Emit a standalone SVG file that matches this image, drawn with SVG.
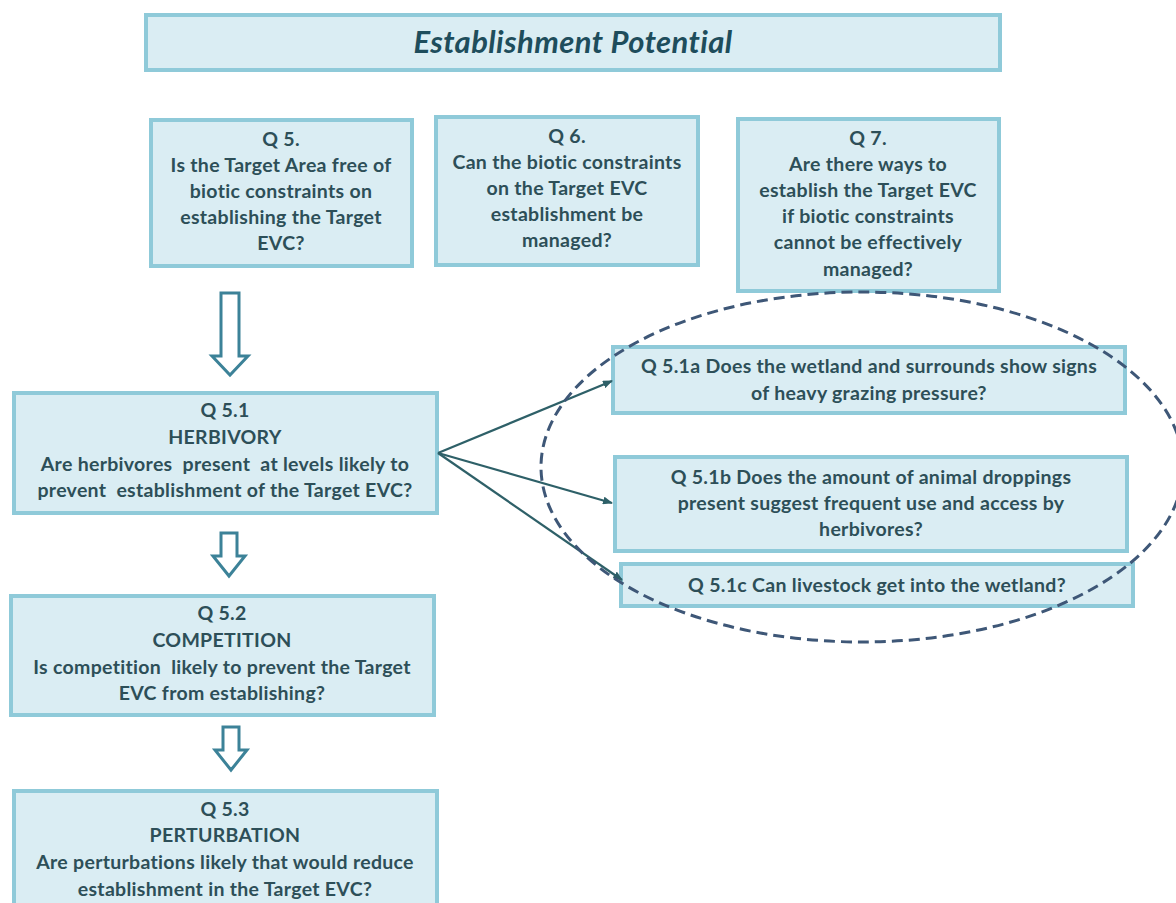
<svg xmlns="http://www.w3.org/2000/svg" width="1176" height="903" viewBox="0 0 1176 903">
<defs>
<style>
.box{fill:#daedf3;stroke:#8fcad9;stroke-width:4}
.t{font-family:Lato,"Open Sans","Liberation Sans",sans-serif;font-weight:bold;font-size:19.5px;letter-spacing:0.3px;fill:#2d4f58;text-anchor:middle}
.title{font-family:Lato,"Open Sans","Liberation Sans",sans-serif;font-weight:bold;font-style:italic;font-size:31px;letter-spacing:0.4px;fill:#1e4d5c;text-anchor:middle}
.blk{fill:#ffffff;stroke:#3c8298;stroke-width:3;stroke-linejoin:miter}
.con{stroke:#2e6068;stroke-width:2.2;fill:none}
</style>
<marker id="ah" markerWidth="10" markerHeight="8" refX="9" refY="4" orient="auto" markerUnits="userSpaceOnUse">
<path d="M0,0 L10,4 L0,8 Z" fill="#2e6068"/>
</marker>
</defs>
<rect width="1176" height="903" fill="#ffffff"/>

<g id="title">
<rect class="box" x="146" y="15" width="854" height="55"/>
<text class="title" x="573" y="53">Establishment Potential</text>
</g>

<g id="q5">
<rect class="box" x="151" y="120" width="261" height="146"/>
<text class="t" x="281" y="146">Q 5.</text>
<text class="t" x="281" y="172">Is the Target Area free of</text>
<text class="t" x="281" y="198">biotic constraints on</text>
<text class="t" x="281" y="224">establishing the Target</text>
<text class="t" x="281" y="250">EVC?</text>
</g>

<g id="q6">
<rect class="box" x="436" y="117" width="262" height="148"/>
<text class="t" x="567" y="143">Q 6.</text>
<text class="t" x="567" y="169">Can the biotic constraints</text>
<text class="t" x="567" y="195">on the Target EVC</text>
<text class="t" x="567" y="221">establishment be</text>
<text class="t" x="567" y="247">managed?</text>
</g>

<g id="q7">
<rect class="box" x="738" y="119" width="261" height="172"/>
<text class="t" x="868" y="145">Q 7.</text>
<text class="t" x="868" y="171">Are there ways to</text>
<text class="t" x="868" y="197">establish the Target EVC</text>
<text class="t" x="868" y="223">if biotic constraints</text>
<text class="t" x="868" y="249">cannot be effectively</text>
<text class="t" x="868" y="276">managed?</text>
</g>

<g id="q51">
<rect class="box" x="14" y="393" width="423" height="120"/>
<text class="t" x="225" y="417">Q 5.1</text>
<text class="t" x="225" y="444">HERBIVORY</text>
<text class="t" x="225" y="471" xml:space="preserve">Are herbivores  present  at levels likely to</text>
<text class="t" x="225" y="497" xml:space="preserve">prevent  establishment of the Target EVC?</text>
</g>

<g id="q52">
<rect class="box" x="11" y="596" width="423" height="119"/>
<text class="t" x="222" y="620">Q 5.2</text>
<text class="t" x="222" y="647">COMPETITION</text>
<text class="t" x="222" y="674" xml:space="preserve">Is competition  likely to prevent the Target</text>
<text class="t" x="222" y="700">EVC from establishing?</text>
</g>

<g id="q53">
<rect class="box" x="14" y="791" width="423" height="125"/>
<text class="t" x="225" y="816">Q 5.3</text>
<text class="t" x="225" y="842">PERTURBATION</text>
<text class="t" x="225" y="869">Are perturbations likely that would reduce</text>
<text class="t" x="225" y="896">establishment in the Target EVC?</text>
</g>

<g id="q51a">
<rect class="box" x="613" y="347" width="512" height="66"/>
<text class="t" x="869" y="373">Q 5.1a Does the wetland and surrounds show signs</text>
<text class="t" x="869" y="400">of heavy grazing pressure?</text>
</g>

<g id="q51b">
<rect class="box" x="615" y="457" width="512" height="94"/>
<text class="t" x="871" y="484">Q 5.1b Does the amount of animal droppings</text>
<text class="t" x="871" y="510">present suggest frequent use and access by</text>
<text class="t" x="871" y="536">herbivores?</text>
</g>

<g id="q51c">
<rect class="box" x="621" y="564" width="512" height="42"/>
<text class="t" x="877" y="592">Q 5.1c Can livestock get into the wetland?</text>
</g>

<g id="flow-arrows">
<path class="blk" d="M221,293 L239,293 L239,356 L248,356 L230,375 L212,356 L221,356 Z"/>
<path class="blk" d="M221,533 L237,533 L237,556 L245,556 L229,576 L213,556 L221,556 Z"/>
<path class="blk" d="M223,727 L239,727 L239,750 L247,750 L231,770 L215,750 L223,750 Z"/>
</g>

<g id="connectors">
<line class="con" x1="438" y1="453" x2="612" y2="381" marker-end="url(#ah)"/>
<line class="con" x1="438" y1="453" x2="612" y2="503" marker-end="url(#ah)"/>
<line class="con" x1="438" y1="453" x2="622" y2="580" marker-end="url(#ah)"/>
</g>

<g id="group-ellipse">
<ellipse cx="862" cy="467" rx="321" ry="175" fill="none" stroke="#3e5777" stroke-width="3" stroke-dasharray="11 6"/>
</g>
</svg>
